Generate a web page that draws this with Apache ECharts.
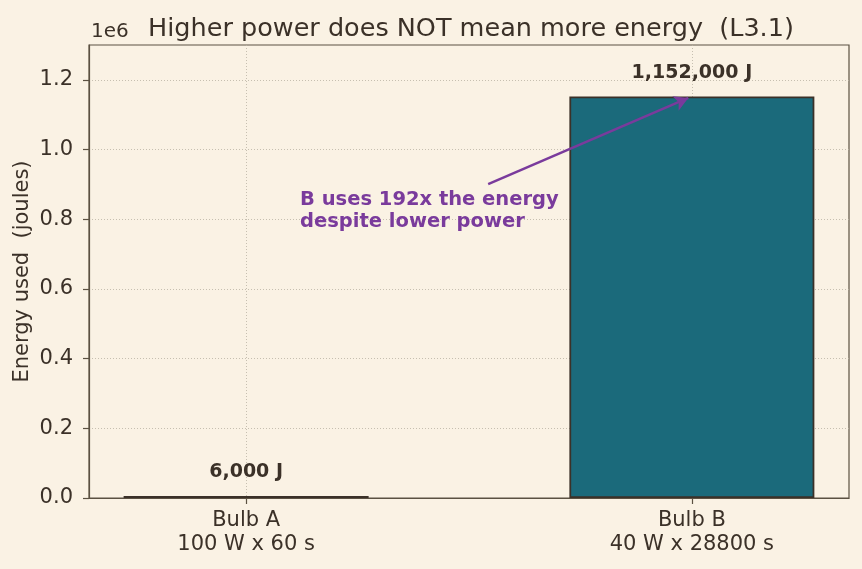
<!DOCTYPE html>
<html>
<head>
<meta charset="utf-8">
<script src="https://cdn.jsdelivr.net/npm/echarts@6/dist/echarts.min.js"></script>
<style>html,body{margin:0;padding:0;background:#faf2e4;}#c{width:862px;height:569px;}</style>
</head>
<body>
<div id="c"></div>
<script>
var categories = ['Bulb A\n100 W x 60 s', 'Bulb B\n40 W x 28800 s'];
var positions = [0, 1];
var energy = [6000, 1152000];
var valueLabels = ['6,000 J', '1,152,000 J'];
var barColors = ['#6b4a2a', '#1b6a7b'];
var yTicks = [0, 200000, 400000, 600000, 800000, 1000000, 1200000];
var arrowFrom = [0.543, 901000];
var arrowTo = [0.992, 1148000];
var noteAt = [0.121, 823000];
var noteText = 'B uses 192x the energy\ndespite lower power';

var ink = '#3b3128';
var axisCol = '#5b5142';
var gridCol = '#b9b1a2';
var purple = '#7a3b9c';
var font = 'DejaVu Sans';

var chart = echarts.init(document.getElementById('c'));
chart.setOption({
  backgroundColor: '#faf2e4',
  animation: false,
  textStyle: {fontFamily: font},
  title: {
    text: 'Higher power does NOT mean more energy  (L3.1)',
    left: 466, top: 11, textAlign: 'center',
    textStyle: {fontFamily: font, fontSize: 25.5, fontWeight: 'normal', color: ink}
  },
  graphic: [{
    type: 'text', left: 91, top: 22,
    style: {text: '1e6', font: '20px "DejaVu Sans"', fill: ink}
  }],
  grid: {left: 89, right: 13, top: 45, bottom: 71, show: true, borderColor: axisCol, borderWidth: 1.2, backgroundColor: 'transparent'},
  xAxis: {
    type: 'value', min: -0.3525, max: 1.3525,
    axisLine: {show: true, onZero: false, lineStyle: {color: axisCol, width: 1.2}},
    axisTick: {show: true, length: 6, customValues: positions, lineStyle: {color: axisCol, width: 1.2}},
    axisLabel: {
      customValues: positions, margin: 11, color: ink, fontSize: 21, lineHeight: 24, fontFamily: font,
      formatter: function (v) { var i = positions.indexOf(Math.round(v)); return i >= 0 ? categories[i] : ''; }
    },
    splitLine: {show: true, lineStyle: {color: gridCol, type: [1, 2], width: 0.8}}
  },
  yAxis: {
    type: 'value', min: 0, max: 1300000,
    name: 'Energy used  (joules)', nameLocation: 'middle', nameGap: 56, nameRotate: 90, nameMoveOverlap: false,
    nameTextStyle: {color: ink, fontSize: 21, fontFamily: font},
    axisLine: {show: true, onZero: false, lineStyle: {color: axisCol, width: 1.2}},
    axisTick: {show: true, length: 6, customValues: yTicks, lineStyle: {color: axisCol, width: 1.2}},
    axisLabel: {
      customValues: yTicks, margin: 16, color: ink, fontSize: 21, fontFamily: font, lineHeight: 25, padding: [4, 0, 0, 0],
      formatter: function (v) { return (v / 1e6).toFixed(1); }
    },
    splitLine: {show: true, lineStyle: {color: gridCol, type: [1, 2], width: 0.8}}
  },
  series: [{
    type: 'bar',
    barWidth: 245,
    data: positions.map(function (p, i) {
      return {value: [p, energy[i]], itemStyle: {color: barColors[i]}};
    }),
    itemStyle: {borderColor: ink, borderWidth: 1.8},
    label: {
      show: true, position: 'top', distance: 14,
      color: ink, fontWeight: 'bold', fontSize: 19, fontFamily: font,
      formatter: function (p) { return valueLabels[p.dataIndex]; }
    },
    markLine: {
      silent: true, animation: false,
      symbol: ['none', 'arrow'], symbolSize: [12, 14],
      lineStyle: {color: purple, width: 2.5, type: 'solid'},
      label: {show: false},
      data: [[{coord: arrowFrom}, {coord: arrowTo}]]
    },
    markPoint: {
      silent: true, animation: false,
      symbol: 'circle', symbolSize: 0,
      data: [{coord: noteAt}],
      label: {
        show: true, position: 'right', distance: 0, align: 'left', verticalAlign: 'middle',
        color: purple, fontWeight: 'bold', fontSize: 19.5, lineHeight: 22, fontFamily: font,
        formatter: function () { return noteText; }
      }
    }
  }]
});
</script>
</body>
</html>
